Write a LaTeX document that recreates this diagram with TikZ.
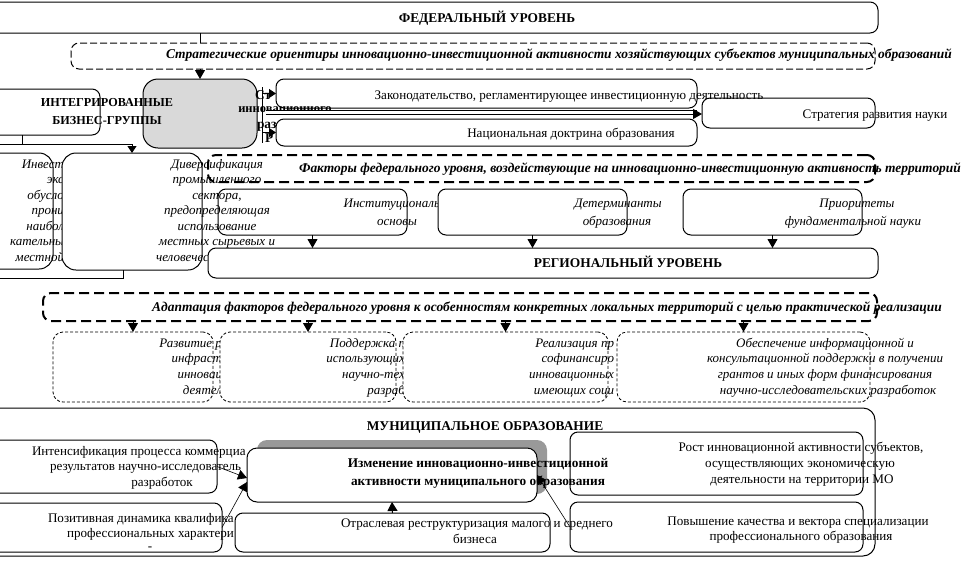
\documentclass[tikz,border=0pt]{standalone}
\usepackage{fontspec}
\setmainfont{Liberation Serif}
\usetikzlibrary{arrows.meta}
\newcommand{\mybox}[6]{\node[#2,minimum width={(#5-#3)*1pt},minimum height={(#6-#4)*1pt}] (#1) at ({(#3+#5)/2},{(#4+#6)/2}) {};}
\newcommand{\tx}[6]{\node[#2,anchor=#3] (#1) at (#4,#5) {#6};}
\begin{document}
\begin{tikzpicture}[x=1pt,y=-1pt,
 box/.style={draw,fill=white,rounded corners=8pt,line width=1pt,inner sep=0pt,outer sep=0pt},
 dbox/.style={draw,fill=white,rounded corners=8pt,line width=1pt,dash pattern=on 7pt off 3pt,inner sep=0pt,outer sep=0pt},
 tdbox/.style={draw,fill=white,rounded corners=8pt,line width=2pt,dash pattern=on 10pt off 5pt,inner sep=0pt,outer sep=0pt},
 sdbox/.style={draw,fill=white,rounded corners=10pt,line width=0.8pt,dash pattern=on 3pt off 2pt,inner sep=0pt,outer sep=0pt},
 arr/.style={-{Triangle[length=9pt,width=10pt]},line width=1pt},
 sarr/.style={-{Triangle[length=7pt,width=9pt]},line width=1pt},
 rt/.style={inner sep=0pt,outer sep=0pt,font=\fontsize{13.1}{15}\selectfont},
 it/.style={inner sep=0pt,outer sep=0pt,font=\fontsize{13}{15}\selectfont\itshape},
 bt/.style={inner sep=0pt,outer sep=0pt,font=\fontsize{13.4}{15}\selectfont\bfseries},
 bit/.style={inner sep=0pt,outer sep=0pt,font=\fontsize{13.45}{15}\selectfont\bfseries\itshape},
]
\useasboundingbox (0,0) rectangle (967,560);
\clip (0,0) rectangle (967,560);
\fill[white] (0,0) rectangle (967,560);

% ---------- federal level
\mybox{fed}{box}{-20}{2}{878}{33}
\tx{tFed}{bt}{base}{487}{22}{ФЕДЕРАЛЬНЫЙ УРОВЕНЬ}
\mybox{strat}{dbox}{71}{43}{875}{69}
\tx{tStr}{bit}{base}{559}{58}{Стратегические ориентиры инновационно-инвестиционной активности хозяйствующих субъектов муниципальных образований}

\mybox{integ}{box}{-20}{89}{100}{135}
\mybox{gray}{box,fill=gray!30,rounded corners=15pt}{143}{79}{257}{148}
\draw[line width=1pt] (fed.south -| gray.north) -- (strat.north -| gray.north);
\draw[arr] (strat.south -| gray.north) -- (gray.north);
\tx{tInt1}{bt,font=\fontsize{12.2}{15}\selectfont\bfseries}{base}{107}{106}{ИНТЕГРИРОВАННЫЕ}
\tx{tInt2}{bt,font=\fontsize{12.2}{15}\selectfont\bfseries}{base}{107}{124}{БИЗНЕС-ГРУППЫ}

\mybox{law}{box}{276}{79}{697}{108}
\mybox{nat}{box}{276}{119}{697}{146}
\mybox{sci}{box}{702}{98}{875}{128}

\tx{tS1}{bt}{base west}{255}{99}{Ст}
\tx{tS2}{bt,font=\fontsize{12.5}{15}\selectfont\bfseries}{base}{285}{112}{инновационного}
\tx{tS3}{bt}{base west}{257}{128}{раз}
\tx{tS4}{bt}{base west}{265}{142}{Р}

\coordinate (l1) at (266,110);
\coordinate (l2) at (266,114);
\fill[white] (l1) rectangle (l2 -| law.east);
\draw[line width=1pt] (l1) -- (l1 -| law.east);
\draw[arr] (l2) -- (l2 -| sci.west);
\coordinate (brT) at (262,87);
\coordinate (brB) at (262,143);
\draw[line width=1pt] (brT) -- (brB);
\draw[sarr] (law.west -| brT) -- (law.west);
\draw[sarr] (nat.west -| brT) -- (nat.west);

\tx{tLaw}{rt}{base}{569}{99}{Законодательство, регламентирующее инвестиционную деятельность}
\tx{tNat}{rt}{base}{571}{137}{Национальная доктрина образования}
\tx{tSci}{rt}{base}{875}{118}{Стратегия развития науки}

% ---------- left side boxes
\mybox{lb}{box,rounded corners=14pt}{-20}{153}{53}{269}
\tx{tL1}{it}{base east}{64}{168}{Инвест}
\tx{tL2}{it}{base east}{64}{183.5}{экс}
\tx{tL3}{it}{base east}{64}{199}{обусло}
\tx{tL4}{it}{base east}{64}{214.5}{прони}
\tx{tL5}{it}{base east}{64}{230}{наибол}
\tx{tL6}{it}{base east}{64}{245.5}{кательны}
\tx{tL7}{it}{base east}{64}{261}{местной}
\mybox{div}{box,rounded corners=14pt}{62}{153}{202}{270}

\coordinate (tkA) at (22,135);
\coordinate (tkB) at (22,144);
\coordinate (hL) at (0,144);
\draw[line width=1pt] (tkA) -- (tkB);
\draw[sarr] (hL) -| (div.north);
\coordinate (bb1) at (123,270);
\coordinate (bb2) at (0,278);
\draw[line width=1pt] (bb1) |- (bb2);

% ---------- federal factors
\mybox{fac}{tdbox}{208}{155}{875}{182}
\mybox{inst}{box}{218}{189}{407}{235}
\tx{tIn1}{it}{base east}{440}{207}{Институциональ}
\tx{tIn2}{it}{base}{397}{225}{основы}
\mybox{det}{box}{438}{189}{627}{235}
\tx{tDe1}{it}{base}{618}{207}{Детерминанты}
\tx{tDe2}{it}{base}{617}{225}{образования}
\mybox{pri}{box}{683}{189}{862}{235}
\tx{tPr1}{it}{base}{857}{207}{Приоритеты}
\tx{tPr2}{it}{base}{853}{225}{фундаментальной науки}
\tx{tFac}{bit}{base}{630}{172}{Факторы федерального уровня, воздействующие на инновационно-инвестиционную активность территорий}

\tx{tD1}{it}{base}{217}{168}{Диверсификация}
\tx{tD2}{it}{base}{217}{183.5}{промышленного}
\tx{tD3}{it}{base}{217}{199}{сектора,}
\tx{tD4}{it}{base}{217}{214.5}{предопределяющая}
\tx{tD5}{it}{base}{217}{230}{использование}
\tx{tD6}{it}{base}{217}{245.5}{местных сырьевых и}
\tx{tD7}{it}{base}{217}{261}{человеческих ресурсов}

% ---------- regional level
\mybox{reg}{box}{208}{248}{878}{278}
\tx{tReg}{bt}{base}{628}{267}{РЕГИОНАЛЬНЫЙ УРОВЕНЬ}
\draw[arr] (inst.south) -- (inst.south |- reg.north);
\draw[arr] (det.south) -- (det.south |- reg.north);
\draw[arr] (pri.south) -- (pri.south |- reg.north);

\mybox{adap}{tdbox}{43}{293}{877}{321}
\tx{tAd}{bit}{base}{547}{311}{Адаптация факторов федерального уровня  к особенностям конкретных локальных территорий с целью практической реализации}

\mybox{bA}{sdbox}{53}{332}{213}{402}
\tx{tA1}{it}{base east}{222}{347}{Развитие р}
\tx{tA2}{it}{base east}{222}{362.7}{инфраст}
\tx{tA3}{it}{base east}{222}{378.4}{инновац}
\tx{tA4}{it}{base east}{222}{394}{деятел}
\mybox{bB}{sdbox}{220}{332}{396}{402}
\tx{tB1}{it}{base east}{405}{347}{Поддержка п}
\tx{tB2}{it}{base east}{405}{362.7}{использующих}
\tx{tB3}{it}{base east}{405}{378.4}{научно-тех}
\tx{tB4}{it}{base east}{405}{394}{разраб}
\mybox{bC}{sdbox}{403}{332}{608}{402}
\tx{tC1}{it}{base east}{614}{347}{Реализация пр}
\tx{tC2}{it}{base east}{614}{362.7}{софинансиро}
\tx{tC3}{it}{base east}{614}{378.4}{инновационных}
\tx{tC4}{it}{base east}{614}{394}{имеющих соци}
\mybox{bD}{sdbox}{617}{332}{870}{402}
\tx{tE1}{it}{base}{825}{347}{Обеспечение информационной и}
\tx{tE2}{it}{base}{825}{362.7}{консультационной поддержки в получении}
\tx{tE3}{it}{base}{825}{378.4}{грантов и иных форм  финансирования}
\tx{tE4}{it}{base}{828}{394}{научно-исследовательских разработок}
\draw[arr] (bA.north |- adap.south) -- (bA.north);
\draw[arr] (bB.north |- adap.south) -- (bB.north);
\draw[arr] (bC.north |- adap.south) -- (bC.north);
\draw[arr] (bD.north |- adap.south) -- (bD.north);

% ---------- municipal level
\mybox{mun}{box,rounded corners=12pt}{-20}{408}{875}{556}
\tx{tMun}{bt}{base}{485}{430}{МУНИЦИПАЛЬНОЕ ОБРАЗОВАНИЕ}

\mybox{intb}{box}{-20}{440}{217}{493}
\tx{tI1}{rt}{base west}{32}{455}{Интенсификация процесса коммерциа}
\tx{tI2}{rt}{base west}{50}{470}{результатов научно-исследователь}
\tx{tI3}{rt}{base}{162}{486}{разработок}
\mybox{pos}{box}{-20}{503}{222}{552}
\tx{tP1}{rt}{base west}{48}{522}{Позитивная динамика квалифика}
\tx{tP2}{rt}{base west}{67}{537}{профессиональных характери}
\tx{tP3}{rt}{base}{150}{550}{-}
\mybox{otr}{box}{235}{513}{550}{552}
\mybox{rost}{box}{570}{432}{863}{495}
\mybox{pov}{box}{570}{502}{863}{552}
\tx{tO1}{rt}{base}{477}{527}{Отраслевая реструктуризация малого и среднего}
\tx{tO2}{rt}{base}{475}{543}{бизнеса}
\mybox{shd}{draw=none,fill=black!40,rounded corners=10pt}{257}{440}{547}{494}
\mybox{cen}{box,rounded corners=10pt}{247}{448}{537}{502}
\tx{tR1}{rt}{base}{801}{451}{Рост инновационной активности субъектов,}
\tx{tR2}{rt}{base}{800}{467}{осуществляющих экономическую}
\tx{tR3}{rt}{base}{802}{483}{деятельности на территории МО}
\tx{tV1}{rt}{base}{798}{525}{Повышение качества и вектора специализации}
\tx{tV2}{rt}{base}{801}{540}{профессионального образования}
\tx{tC1x}{bt,font=\fontsize{13.3}{15}\selectfont\bfseries}{base}{478}{467}{Изменение инновационно-инвестиционной}
\tx{tC2x}{bt,font=\fontsize{13.3}{15}\selectfont\bfseries}{base}{478}{485}{активности муниципального образования}

\draw[arr,line width=0.6pt] (intb.east) -- ([yshift=-3pt]cen.west);
\draw[arr,line width=0.6pt] (pos.east) -- ([yshift=-7pt]cen.west);
\draw[arr] (otr.north) -- (cen.south);
\draw[arr,line width=0.6pt] (pov.west) -- (cen.east);
\end{tikzpicture}
\end{document}
